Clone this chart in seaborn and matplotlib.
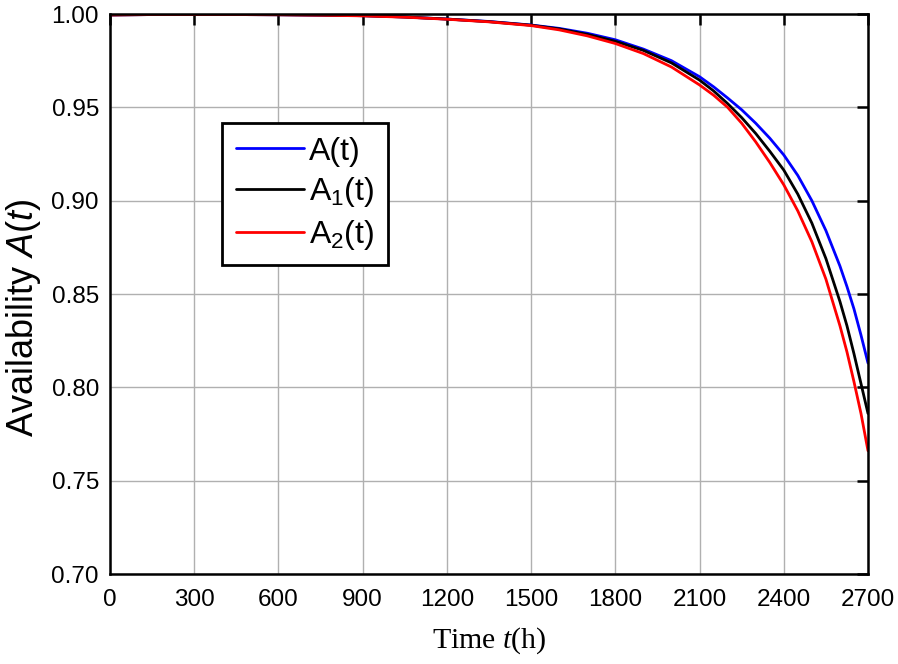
import seaborn as sns
import matplotlib.pyplot as plt
import pandas as pd

# operating time (h)
t = [0, 150, 300, 450, 600, 750, 900, 1050, 1200, 1350, 1500, 1600, 1700, 1800, 1900, 2000,
     2100, 2150, 2200, 2250, 2300, 2350, 2400, 2450, 2500, 2550, 2600, 2625, 2650, 2675, 2700]

a_total = [0.9995, 0.9997, 0.9997, 0.9997, 0.9996, 0.9994, 0.9991, 0.9984, 0.9973, 0.9960, 0.9941,
           0.9923, 0.9897, 0.9862, 0.9812, 0.9750, 0.9664, 0.9610, 0.9550, 0.9487, 0.9415, 0.9335,
           0.9245, 0.9135, 0.9000, 0.8840, 0.8650, 0.8540, 0.8420, 0.8280, 0.8130]
a_one = [0.9995, 0.9997, 0.9997, 0.9997, 0.9996, 0.9994, 0.9991, 0.9984, 0.9973, 0.9959, 0.9940,
         0.9920, 0.9891, 0.9854, 0.9805, 0.9738, 0.9646, 0.9588, 0.9520, 0.9445, 0.9360, 0.9265,
         0.9164, 0.9035, 0.8880, 0.8690, 0.8460, 0.8330, 0.8180, 0.8020, 0.7860]
a_two = [0.9995, 0.9997, 0.9997, 0.9997, 0.9996, 0.9994, 0.9990, 0.9983, 0.9972, 0.9958, 0.9938,
         0.9915, 0.9883, 0.9842, 0.9788, 0.9716, 0.9620, 0.9565, 0.9500, 0.9415, 0.9315, 0.9205,
         0.9085, 0.8945, 0.8780, 0.8580, 0.8330, 0.8190, 0.8030, 0.7860, 0.7660]

labels = ['A(t)', 'A$_1$(t)', 'A$_2$(t)']
colors = ['#0000ff', '#000000', '#ff0000']

x_ticks = [0, 300, 600, 900, 1200, 1500, 1800, 2100, 2400, 2700]
y_ticks = [0.70, 0.75, 0.80, 0.85, 0.90, 0.95, 1.00]

df = pd.concat([
    pd.DataFrame({'t': t, 'A': a_total, 'series': labels[0]}),
    pd.DataFrame({'t': t, 'A': a_one, 'series': labels[1]}),
    pd.DataFrame({'t': t, 'A': a_two, 'series': labels[2]}),
])

sns.set_style('whitegrid')
plt.rcParams['font.family'] = ['Liberation Sans', 'DejaVu Sans']
plt.rcParams['mathtext.fontset'] = 'custom'
plt.rcParams['mathtext.rm'] = 'Liberation Sans'
plt.rcParams['mathtext.it'] = 'Liberation Sans:italic'
plt.rcParams['mathtext.sf'] = 'Liberation Serif:italic'
plt.rcParams['text.color'] = 'black'
plt.rcParams['axes.labelcolor'] = 'black'

fig = plt.figure(figsize=(8.98, 6.64), dpi=100)
ax = fig.add_axes([0.1225, 0.1355, 0.8441, 0.8434])

sns.lineplot(data=df, x='t', y='A', hue='series', palette=dict(zip(labels, colors)),
             linewidth=2.0, ax=ax, legend=False)

ax.set_xlim(0, 2700)
ax.set_ylim(0.70, 1.00)
ax.set_xticks(x_ticks)
ax.set_yticks(y_ticks)
ax.set_yticklabels([f'{v:.2f}' for v in y_ticks])

ax.grid(True, color='#b0b0b0', linewidth=1.0)
for s in ax.spines.values():
    s.set_visible(True)
    s.set_color('black')
    s.set_linewidth(1.8)
ax.tick_params(direction='in', length=8, width=1.8, color='black', top=True, right=True,
               labelsize=17.5, labelcolor='black')
ax.tick_params(axis='x', pad=11)
ax.tick_params(axis='y', pad=8)

ax.set_ylabel('Availability $A$($t$)', fontsize=26)
ax.yaxis.set_label_coords(-0.088, 0.457)
ax.set_xlabel('Time $\\mathsf{t}$(h)', fontsize=21.5, family='Liberation Serif', labelpad=10)

handles = [plt.Line2D([], [], color=c, linewidth=2.0) for c in colors]
leg = ax.legend(handles, labels, loc='upper left', bbox_to_anchor=(0.148, 0.805), fontsize=23,
                frameon=True, fancybox=False, edgecolor='black', framealpha=1,
                handlelength=2.15, labelspacing=0.27, borderpad=0.42, handletextpad=0.15,
                borderaxespad=0)
leg.get_frame().set_linewidth(2.0)

fig.savefig('out.png', dpi=100)
